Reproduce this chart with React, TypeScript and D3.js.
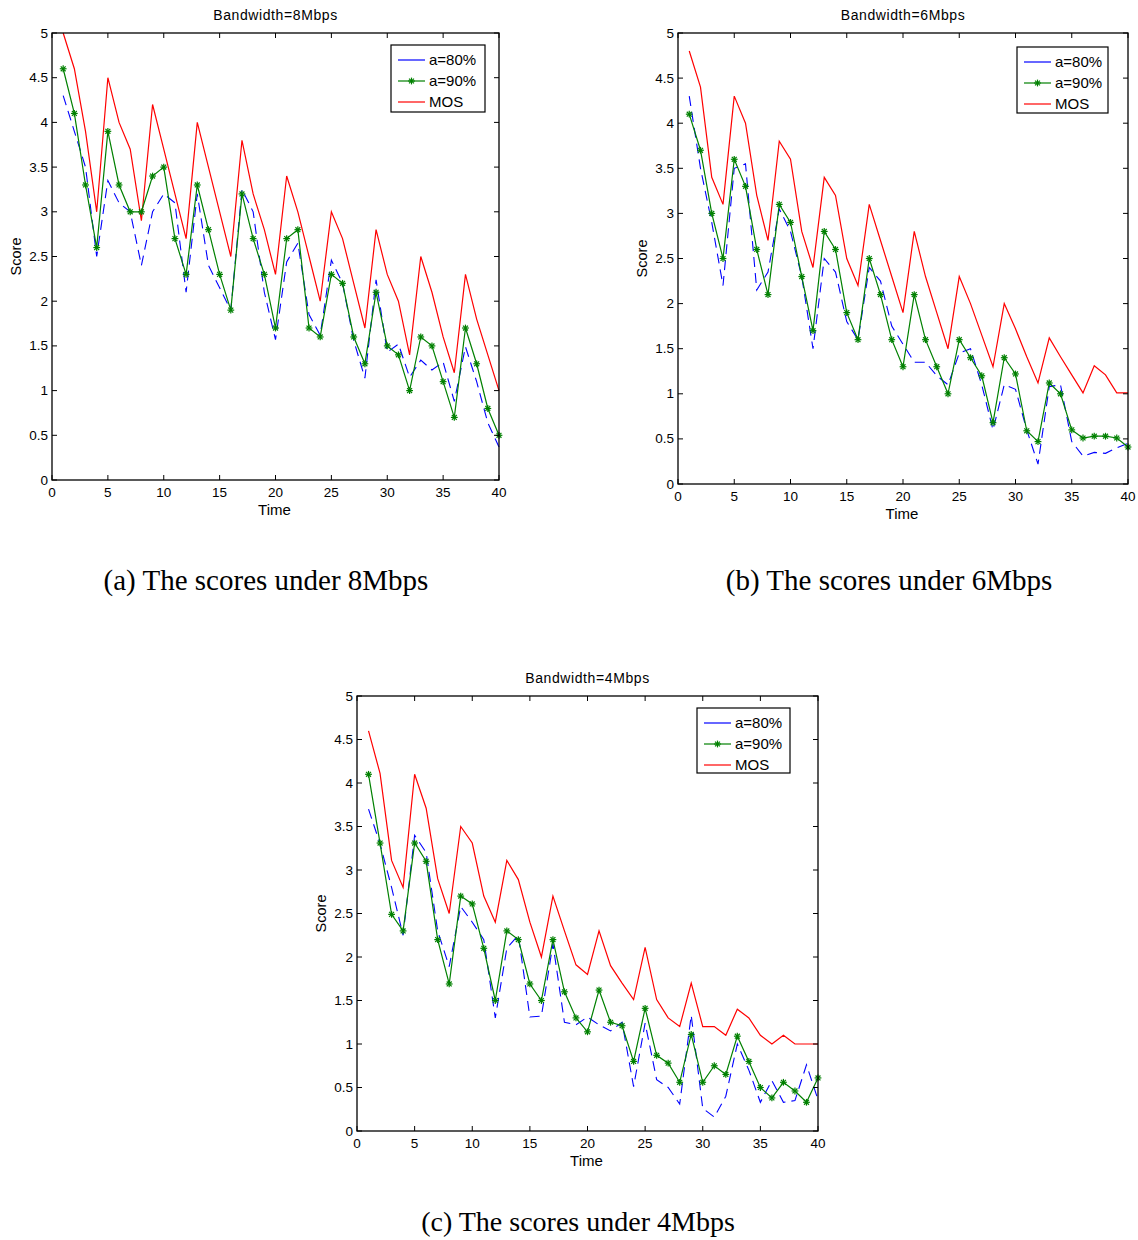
import React from "react";
import * as d3 from "d3";

const time = d3.range(1, 41);

// Panel (a) Bandwidth=8Mbps
const a80_8 = [4.3, 3.9, 3.5, 2.5, 3.35, 3.1, 3.0, 2.4, 3.0, 3.2, 3.1, 2.1, 3.2, 2.4, 2.15, 1.9, 3.25, 3.0, 2.1, 1.57, 2.44, 2.65, 1.85, 1.62, 2.46, 2.2, 1.56, 1.14, 2.24, 1.43, 1.52, 1.15, 1.34, 1.23, 1.32, 0.88, 1.49, 1.1, 0.64, 0.37];
const a90_8 = [4.6, 4.1, 3.3, 2.6, 3.9, 3.3, 3.0, 3.0, 3.4, 3.5, 2.7, 2.3, 3.3, 2.8, 2.3, 1.9, 3.2, 2.7, 2.3, 1.7, 2.7, 2.8, 1.7, 1.6, 2.3, 2.2, 1.6, 1.3, 2.1, 1.5, 1.4, 1.0, 1.6, 1.5, 1.1, 0.7, 1.7, 1.3, 0.8, 0.5];
const mos_8 = [5.0, 4.6, 3.9, 3.0, 4.5, 4.0, 3.7, 2.9, 4.2, 3.7, 3.2, 2.7, 4.0, 3.5, 3.0, 2.5, 3.8, 3.2, 2.8, 2.3, 3.4, 3.0, 2.5, 2.0, 3.0, 2.7, 2.2, 1.7, 2.8, 2.3, 2.0, 1.4, 2.5, 2.1, 1.6, 1.2, 2.3, 1.8, 1.4, 1.0];

// Panel (b) Bandwidth=6Mbps
const a80_6 = [4.3, 3.5, 2.9, 2.2, 3.5, 3.55, 2.15, 2.35, 3.05, 2.8, 2.3, 1.5, 2.5, 2.35, 1.8, 1.6, 2.4, 2.25, 1.75, 1.55, 1.35, 1.35, 1.2, 1.1, 1.45, 1.5, 1.1, 0.6, 1.1, 1.05, 0.6, 0.22, 1.08, 1.1, 0.47, 0.31, 0.35, 0.34, 0.4, 0.45];
const a90_6 = [4.1, 3.7, 3.0, 2.5, 3.6, 3.3, 2.6, 2.1, 3.1, 2.9, 2.3, 1.7, 2.8, 2.6, 1.9, 1.6, 2.5, 2.1, 1.6, 1.3, 2.1, 1.6, 1.3, 1.0, 1.6, 1.4, 1.2, 0.68, 1.4, 1.22, 0.59, 0.47, 1.12, 1.0, 0.6, 0.51, 0.53, 0.53, 0.51, 0.41];
const mos_6 = [4.8, 4.4, 3.4, 3.1, 4.3, 4.0, 3.2, 2.7, 3.8, 3.6, 2.8, 2.4, 3.4, 3.2, 2.5, 2.2, 3.1, 2.7, 2.3, 1.9, 2.8, 2.3, 1.9, 1.5, 2.3, 2.0, 1.65, 1.3, 2.0, 1.72, 1.41, 1.12, 1.62, 1.41, 1.21, 1.01, 1.31, 1.21, 1.01, 1.01];

// Panel (c) Bandwidth=4Mbps
const a80_4 = [3.7, 3.3, 2.8, 2.25, 3.4, 3.2, 2.3, 1.89, 2.58, 2.4, 2.2, 1.3, 2.1, 2.25, 1.31, 1.32, 2.15, 1.25, 1.22, 1.31, 1.22, 1.15, 1.25, 0.51, 1.24, 0.59, 0.5, 0.31, 1.33, 0.26, 0.16, 0.4, 1.0, 0.7, 0.33, 0.58, 0.33, 0.35, 0.76, 0.36];
const a90_4 = [4.1, 3.31, 2.49, 2.3, 3.31, 3.1, 2.2, 1.69, 2.7, 2.61, 2.1, 1.5, 2.3, 2.2, 1.69, 1.5, 2.2, 1.6, 1.3, 1.14, 1.62, 1.25, 1.21, 0.8, 1.41, 0.87, 0.78, 0.56, 1.11, 0.56, 0.75, 0.65, 1.09, 0.8, 0.5, 0.38, 0.56, 0.46, 0.33, 0.61];
const mos_4 = [4.6, 4.11, 3.11, 2.8, 4.1, 3.71, 2.9, 2.5, 3.5, 3.31, 2.7, 2.4, 3.11, 2.89, 2.4, 2.0, 2.7, 2.3, 1.91, 1.8, 2.3, 1.9, 1.7, 1.51, 2.11, 1.51, 1.3, 1.2, 1.7, 1.2, 1.2, 1.1, 1.4, 1.3, 1.1, 1.0, 1.1, 1.0, 1.0, 1.0];

const xTicks = [0, 5, 10, 15, 20, 25, 30, 35, 40];
const yTicks = [0, 0.5, 1, 1.5, 2, 2.5, 3, 3.5, 4, 4.5, 5];
const legendLabels = ["a=80%", "a=90%", "MOS"];

const SANS = "'Liberation Sans', Arial, Helvetica, sans-serif";
const SERIF = "'Liberation Serif', 'Times New Roman', serif";
const BLUE = "#0000ff";
const GREEN = "#008000";
const RED = "#ff0000";

function Star({ cx, cy }: { cx: number; cy: number }) {
  const r = 3.4;
  const d = r * 0.72;
  return (
    <g stroke={GREEN} strokeWidth={1.2}>
      <line x1={cx - r} y1={cy} x2={cx + r} y2={cy} />
      <line x1={cx} y1={cy - r} x2={cx} y2={cy + r} />
      <line x1={cx - d} y1={cy - d} x2={cx + d} y2={cy + d} />
      <line x1={cx - d} y1={cy + d} x2={cx + d} y2={cy - d} />
    </g>
  );
}

type PanelProps = {
  x0: number; y0: number; x1: number; y1: number;
  title: string;
  s80: number[]; s90: number[]; mos: number[];
  legend: { x: number; y: number; w: number; h: number };
};

function Panel({ x0, y0, x1, y1, title, s80, s90, mos, legend }: PanelProps) {
  const xs = d3.scaleLinear().domain([0, 40]).range([x0, x1]);
  const ys = d3.scaleLinear().domain([0, 5]).range([y1, y0]);
  const line = d3.line<number>().x((_, i) => xs(time[i])).y((v) => ys(v));
  const tk = 5;
  return (
    <g fontFamily={SANS}>
      <rect x={x0} y={y0} width={x1 - x0} height={y1 - y0} fill="white" />
      <path d={line(s80) || ""} fill="none" stroke={BLUE} strokeWidth={1.1} strokeDasharray="10,6" />
      <path d={line(mos) || ""} fill="none" stroke={RED} strokeWidth={1.2} />
      <path d={line(s90) || ""} fill="none" stroke={GREEN} strokeWidth={1.2} />
      {s90.map((v, i) => (
        <Star key={i} cx={xs(time[i])} cy={ys(v)} />
      ))}
      <rect x={x0} y={y0} width={x1 - x0} height={y1 - y0} fill="none" stroke="black" strokeWidth={1.3} />
      {xTicks.map((t) => (
        <g key={"x" + t}>
          <line x1={xs(t)} x2={xs(t)} y1={y1} y2={y1 - tk} stroke="black" />
          <line x1={xs(t)} x2={xs(t)} y1={y0} y2={y0 + tk} stroke="black" />
          <text x={xs(t)} y={y1 + 17} textAnchor="middle" fontSize={13.5}>{t}</text>
        </g>
      ))}
      {yTicks.map((t) => (
        <g key={"y" + t}>
          <line x1={x0} x2={x0 + tk} y1={ys(t)} y2={ys(t)} stroke="black" />
          <line x1={x1} x2={x1 - tk} y1={ys(t)} y2={ys(t)} stroke="black" />
          <text x={x0 - 4} y={ys(t) + 4.5} textAnchor="end" fontSize={13.5}>{t}</text>
        </g>
      ))}
      <text x={(x0 + x1) / 2} y={y0 - 13} textAnchor="middle" fontSize={14} letterSpacing={0.6}>{title}</text>
      <text x={(x0 + x1) / 2 - 1} y={y1 + 35} textAnchor="middle" fontSize={15}>Time</text>
      <text transform={`translate(${x0 - 31},${(y0 + y1) / 2}) rotate(-90)`} textAnchor="middle" fontSize={14.5}>Score</text>
      <g>
        <rect x={legend.x} y={legend.y} width={legend.w} height={legend.h} fill="white" stroke="black" strokeWidth={1.2} />
        {legendLabels.map((lab, i) => {
          const cy = legend.y + 15 + i * 21;
          const lx0 = legend.x + 7;
          const lx1 = legend.x + 34;
          const col = i === 0 ? BLUE : i === 1 ? GREEN : RED;
          return (
            <g key={lab}>
              <line x1={lx0} x2={lx1} y1={cy} y2={cy} stroke={col} strokeWidth={1.2} />
              {i === 1 && <Star cx={(lx0 + lx1) / 2} cy={cy} />}
              <text x={legend.x + 38} y={cy + 5} textAnchor="start" fontSize={15}>{lab}</text>
            </g>
          );
        })}
      </g>
    </g>
  );
}

export default function App() {
  return (
    <svg width={1138} height={1240} style={{ position: "absolute", left: 0, top: 0 }}>
      <rect width={1138} height={1240} fill="white" />
      <Panel x0={52} y0={33} x1={499} y1={480} title="Bandwidth=8Mbps" s80={a80_8} s90={a90_8} mos={mos_8}
        legend={{ x: 391, y: 45, w: 94, h: 67 }} />
      <Panel x0={678} y0={33} x1={1128} y1={484} title="Bandwidth=6Mbps" s80={a80_6} s90={a90_6} mos={mos_6}
        legend={{ x: 1017, y: 47, w: 91, h: 66 }} />
      <Panel x0={357} y0={696} x1={818} y1={1131} title="Bandwidth=4Mbps" s80={a80_4} s90={a90_4} mos={mos_4}
        legend={{ x: 697, y: 708, w: 93, h: 65 }} />
      <text x={266} y={590} textAnchor="middle" fontFamily={SERIF} fontSize={29}>(a) The scores under 8Mbps</text>
      <text x={889} y={590} textAnchor="middle" fontFamily={SERIF} fontSize={29}>(b) The scores under 6Mbps</text>
      <text x={578} y={1231} textAnchor="middle" fontFamily={SERIF} fontSize={28}>(c) The scores under 4Mbps</text>
    </svg>
  );
}
